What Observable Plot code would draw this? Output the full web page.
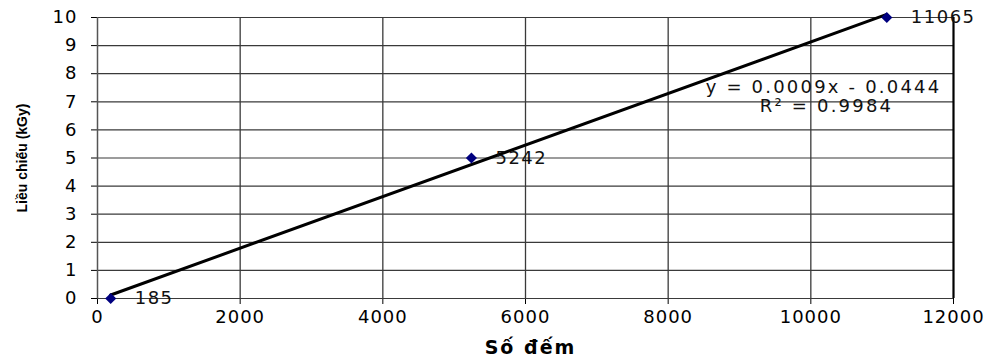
<!DOCTYPE html>
<html>
<head>
<meta charset="utf-8">
<script src="https://cdn.jsdelivr.net/npm/d3@7"></script>
<script src="https://cdn.jsdelivr.net/npm/@observablehq/plot@0.6"></script>
<style>
  html, body { margin: 0; padding: 0; background: #fff; }
  #chart svg { display: block; }
</style>
</head>
<body>
<div id="chart"></div>
<script>
// Data
const counts = [185, 5242, 11065];      // Số đếm
const doses = [0, 5, 10];               // Liều chiếu (kGy)
const pointLabels = ["185", "5242", "11065"];
const xTicks = [0, 2000, 4000, 6000, 8000, 10000, 12000];
const yTicks = [0, 1, 2, 3, 4, 5, 6, 7, 8, 9, 10];
const equationLines = ["y = 0.0009x - 0.0444", "R² = 0.9984"];
const xTitle = "Số đếm";
const yTitle = "Liều chiếu (kGy)";

const points = counts.map((c, i) => ({x: c, y: doses[i], label: pointLabels[i]}));

const grid = "#3a3a3a";

const chart = Plot.plot({
  width: 990,
  height: 357,
  marginLeft: 97,
  marginRight: 37,
  marginTop: 17,
  marginBottom: 59,
  style: {fontFamily: "DejaVu Sans", fontSize: "18px", letterSpacing: "1px", color: "#000", background: "#fff", overflow: "visible"},
  x: {domain: [0, 12000], ticks: xTicks, tickSize: 6, tickPadding: 6, label: null, tickFormat: d => String(d)},
  y: {domain: [0, 10], ticks: yTicks, tickSize: 6, tickPadding: 14, label: null},
  marks: [
    Plot.ruleY(yTicks, {stroke: grid, strokeWidth: 1.2}),
    Plot.ruleX(xTicks.filter(d => d > 0 && d < 12000), {stroke: grid, strokeWidth: 1.3}),
    Plot.ruleX([12000], {stroke: "#000", strokeWidth: 2.2}),
    Plot.ruleX([0], {stroke: "#555", strokeWidth: 1.5}),
    Plot.linearRegressionY(points, {x: "x", y: "y", stroke: "#000", strokeWidth: 3, ci: 0}),
    Plot.dot(points, {x: "x", y: "y", symbol: "diamond2", r: 5, fill: "#00007f", stroke: "none"}),
    Plot.text(points, {x: "x", y: "y", text: "label", textAnchor: "start", dx: 24, fontSize: 18, fill: "#111"}),
    Plot.text([equationLines[0]], {frameAnchor: "top-right", textAnchor: "middle", lineAnchor: "middle", dx: -130, dy: 70, fontSize: 18, fill: "#111"}),
    Plot.text([equationLines[1]], {frameAnchor: "top-right", textAnchor: "middle", lineAnchor: "middle", dx: -127, dy: 89, fontSize: 18, fill: "#111"}),
    Plot.text([xTitle], {frameAnchor: "bottom", textAnchor: "middle", lineAnchor: "middle", dx: 5, dy: 49, fontFamily: "DejaVu Sans", fontWeight: "bold", fontSize: 19}),
    Plot.text([yTitle], {frameAnchor: "left", textAnchor: "middle", lineAnchor: "middle", rotate: -90, dx: -75, dy: 0, fontFamily: "Liberation Sans", fontWeight: "bold", fontSize: 14})
  ]
});

// per-text letter spacing (styling only)
d3.select(chart).selectAll("text").each(function() {
  const t = this.textContent;
  if (t === yTitle) this.style.letterSpacing = "0px";
  else if (equationLines.includes(t)) this.style.letterSpacing = "2.2px";
  else if (t === xTitle) this.style.letterSpacing = "2px";
  else if (pointLabels.includes(t)) this.style.letterSpacing = "1.5px";
});

document.getElementById("chart").appendChild(chart);
</script>
</body>
</html>
